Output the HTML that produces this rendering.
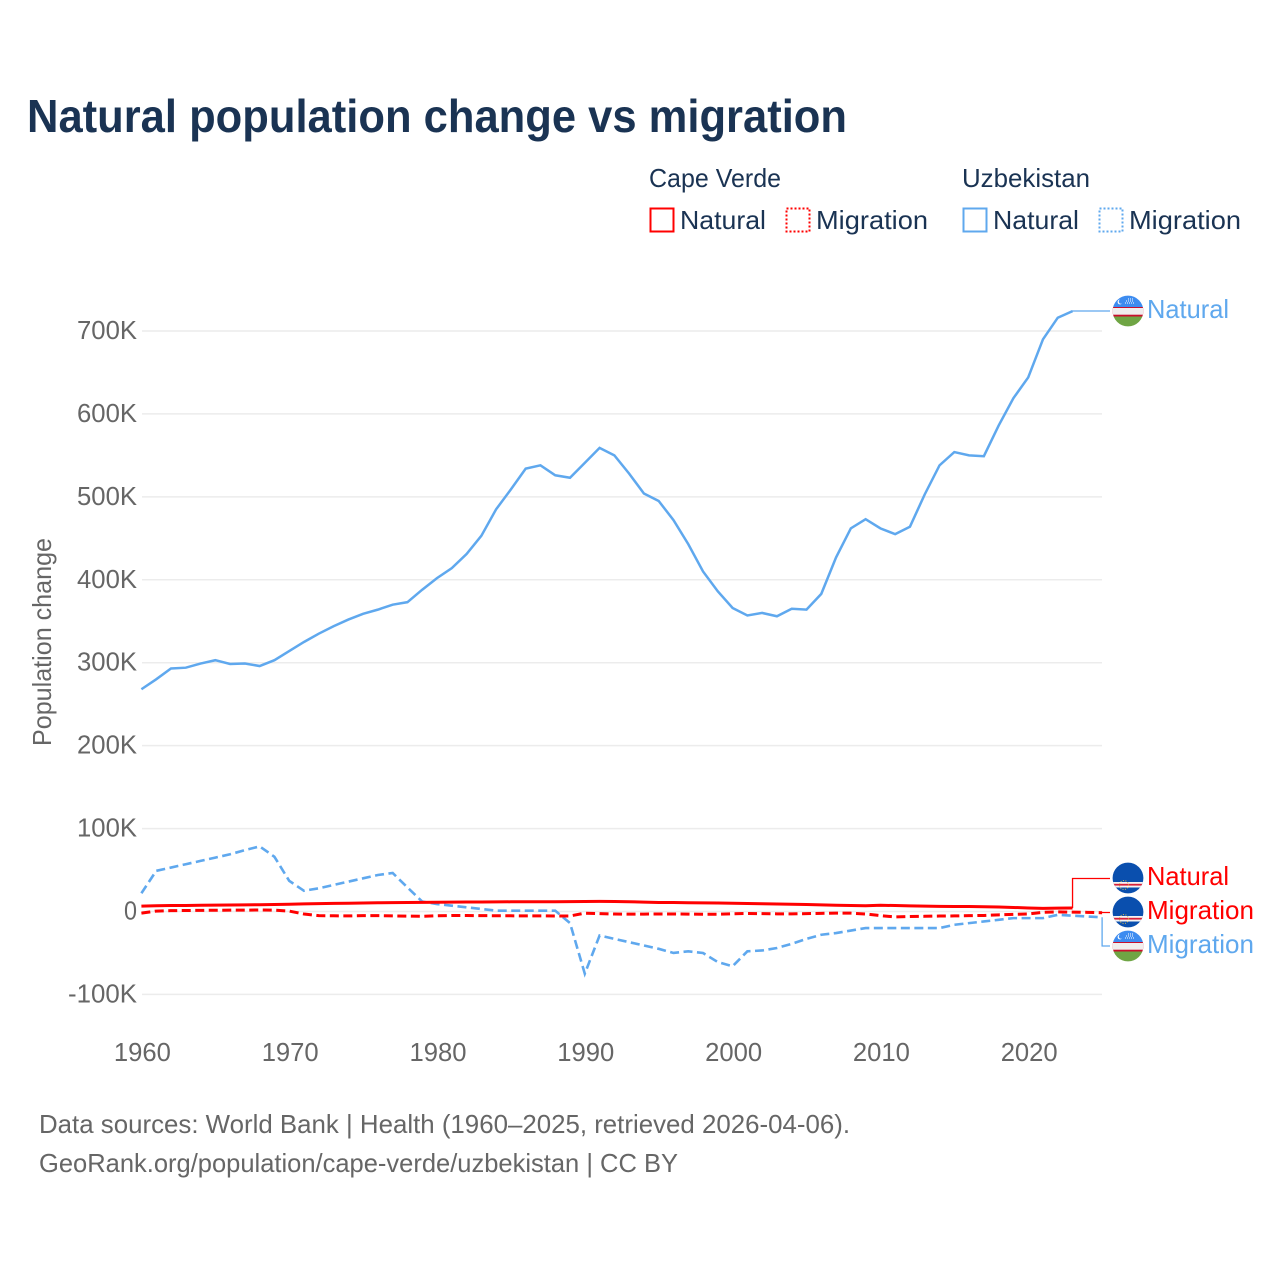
<!DOCTYPE html>
<html lang="en">
<head>
<meta charset="utf-8">
<title>Natural population change vs migration</title>
<style>
html,body{margin:0;padding:0;background:#fff;}
svg{display:block;}
text{font-family:"Liberation Sans",sans-serif;}
.t{font-size:26px;fill:#666;}
.l{font-size:26px;fill:#1a3353;}
</style>
</head>
<body>
<svg id="chart" xmlns="http://www.w3.org/2000/svg" width="1280" height="1280" viewBox="0 0 1280 1280">
  <rect width="1280" height="1280" fill="#fff"/>
  <text x="27" y="132" font-size="46" font-weight="700" fill="#1a3353" textLength="820" lengthAdjust="spacingAndGlyphs">Natural population change vs migration</text>

  <g>
    <text class="l" x="649" y="187" textLength="132" lengthAdjust="spacingAndGlyphs">Cape Verde</text>
    <text class="l" x="962" y="187" textLength="128" lengthAdjust="spacingAndGlyphs">Uzbekistan</text>
    <g>
      <rect x="650.5" y="208.5" width="23" height="23" fill="none" stroke="#ff0000" stroke-width="2"/>
      <text class="l" x="680" y="229" textLength="86" lengthAdjust="spacingAndGlyphs">Natural</text>
    </g>
    <g>
      <rect x="786.5" y="208.5" width="23" height="23" fill="none" stroke="#ff0000" stroke-width="2" stroke-dasharray="2 2"/>
      <text class="l" x="816" y="229" textLength="112" lengthAdjust="spacingAndGlyphs">Migration</text>
    </g>
    <g>
      <rect x="963.5" y="208.5" width="23" height="23" fill="none" stroke="#5fa8ee" stroke-width="2"/>
      <text class="l" x="993" y="229" textLength="86" lengthAdjust="spacingAndGlyphs">Natural</text>
    </g>
    <g>
      <rect x="1099.5" y="208.5" width="23" height="23" fill="none" stroke="#5fa8ee" stroke-width="2" stroke-dasharray="2 2"/>
      <text class="l" x="1129" y="229" textLength="112" lengthAdjust="spacingAndGlyphs">Migration</text>
    </g>
  </g>

  <text class="t" transform="translate(51 746) rotate(-90)" x="0" y="0" textLength="208" lengthAdjust="spacingAndGlyphs">Population change</text>
  <g id="grid"></g>
  <g id="yticks"></g>
  <g id="xticks"></g>
  <g id="series"></g>

  <defs>
    <clipPath id="clip-cv1"><circle cx="1128" cy="878" r="15.4"/></clipPath>
    <clipPath id="clip-cv2"><circle cx="1128" cy="912" r="15.4"/></clipPath>
    <clipPath id="clip-uz1"><circle cx="1128" cy="311" r="15.4"/></clipPath>
    <clipPath id="clip-uz2"><circle cx="1128" cy="946" r="15.4"/></clipPath>
  </defs>

  <g>
    <g clip-path="url(#clip-uz1)">
      <rect x="1112" y="295" width="32" height="12" fill="#3d8cf0"/>
      <rect x="1112" y="307" width="32" height="9.5" fill="#c8102e"/>
      <rect x="1112" y="308" width="32" height="6.7" fill="#f0eeee"/>
      <rect x="1112" y="316.5" width="32" height="11" fill="#6fa544"/>
      <circle cx="1120" cy="302" r="2.4" fill="#fff"/>
      <circle cx="1121" cy="301.6" r="2.2" fill="#3d8cf0"/>
      <path d="M1125 303h9M1126 301h8M1128 299h6" stroke="#fff" stroke-width="1" stroke-dasharray="1 1" fill="none"/>
    </g>
    <text x="1147" y="318" font-size="26" fill="#5fa8ee" textLength="82" lengthAdjust="spacingAndGlyphs">Natural</text>
  </g>
  <g>
    <g clip-path="url(#clip-cv1)">
      <rect x="1112" y="862" width="32" height="32" fill="#0a4fae"/>
      <rect x="1112" y="882" width="32" height="5.5" fill="#f4f4f4"/>
      <rect x="1112" y="883.8" width="32" height="1.8" fill="#d8213a"/>
      <circle cx="1124" cy="885" r="4.5" fill="none" stroke="#d9b84a" stroke-width="1" stroke-dasharray="1 1.5"/>
    </g>
    <text x="1147" y="885" font-size="26" fill="#ff0000" textLength="82" lengthAdjust="spacingAndGlyphs">Natural</text>
  </g>
  <g>
    <circle cx="1128" cy="912" r="16.4" fill="#fff"/>
    <g clip-path="url(#clip-cv2)">
      <rect x="1112" y="896" width="32" height="32" fill="#0a4fae"/>
      <rect x="1112" y="916" width="32" height="5.5" fill="#f4f4f4"/>
      <rect x="1112" y="917.8" width="32" height="1.8" fill="#d8213a"/>
      <circle cx="1124" cy="919" r="4.5" fill="none" stroke="#d9b84a" stroke-width="1" stroke-dasharray="1 1.5"/>
    </g>
    <text x="1147" y="919" font-size="26" fill="#ff0000" textLength="107" lengthAdjust="spacingAndGlyphs">Migration</text>
  </g>
  <g>
    <circle cx="1128" cy="946" r="16.4" fill="#fff"/>
    <g clip-path="url(#clip-uz2)">
      <rect x="1112" y="930" width="32" height="12" fill="#3d8cf0"/>
      <rect x="1112" y="942" width="32" height="9.5" fill="#c8102e"/>
      <rect x="1112" y="943" width="32" height="6.7" fill="#f0eeee"/>
      <rect x="1112" y="951.5" width="32" height="11" fill="#6fa544"/>
      <circle cx="1120" cy="937" r="2.4" fill="#fff"/>
      <circle cx="1121" cy="936.6" r="2.2" fill="#3d8cf0"/>
      <path d="M1125 938h9M1126 936h8M1128 934h6" stroke="#fff" stroke-width="1" stroke-dasharray="1 1" fill="none"/>
    </g>
    <text x="1147" y="953" font-size="26" fill="#5fa8ee" textLength="107" lengthAdjust="spacingAndGlyphs">Migration</text>
  </g>

  <g>
    <text class="t" x="39" y="1133" textLength="811" lengthAdjust="spacingAndGlyphs">Data sources: World Bank | Health (1960–2025, retrieved 2026-04-06).</text>
    <text class="t" x="39" y="1172" textLength="639" lengthAdjust="spacingAndGlyphs">GeoRank.org/population/cape-verde/uzbekistan | CC BY</text>
  </g>
</svg>
<script>
const startYear = 1960;
const yTickValues = [-100, 0, 100, 200, 300, 400, 500, 600, 700];
const yTickLabels = ['-100K', '0', '100K', '200K', '300K', '400K', '500K', '600K', '700K'];
const xTickValues = [1960, 1970, 1980, 1990, 2000, 2010, 2020];
const xTickLabels = ['1960', '1970', '1980', '1990', '2000', '2010', '2020'];

// values in thousands of people, one per year from 1960
const uzbekistanNatural = [268,280,293,294,299,303,298.5,299,296,303,314,325,335,344,352,359,364,370,373,388,402,414,431,453,485,509,534,538,526,523,541,559,550,528,504,495,472,443,410,386,366,357,360,356,365,364,383,427,462,473,462,455,464,503,538,554,550,549,586,619,644,690,716,724];
const uzbekistanMigration = [22,49,53,57,61,65,69,74,78.5,66,37,25,28,32,36,40,44,46.5,29,12,9,7,5,3,1,1,1,1,1,-14,-75,-29,-33,-37,-41,-45,-50,-48,-50,-61,-66,-48,-47,-44,-39,-33,-28,-26,-23,-20,-20,-20,-20,-20,-20,-16,-14,-12,-10,-8,-8,-8,-4,-5,-6,-7];
const capeVerdeNatural = [6.5,7,7.2,7.3,7.5,7.7,7.9,8,8.2,8.4,8.8,9.2,9.5,9.8,10,10.3,10.5,10.7,10.9,11,11.2,11.3,11.4,11.5,11.6,11.7,11.8,11.8,11.8,11.9,12,12.2,12.1,11.8,11.3,10.9,10.8,10.6,10.4,10.2,9.9,9.6,9.3,9,8.8,8.4,8,7.6,7.2,7,7.5,7.2,6.8,6.5,6.2,6,6,5.8,5.4,4.9,4.2,3.7,4,4.2];
const capeVerdeMigration = [-2,0.5,1,1.2,1.4,1.5,1.6,1.7,1.8,1.6,0.5,-3,-5,-5.2,-5.3,-5,-5,-5.3,-5.6,-5.8,-5.2,-4.8,-4.8,-5,-5.1,-5.2,-5.3,-5.3,-5.4,-5.4,-2,-2.5,-3,-3.2,-3.1,-3,-3,-3.1,-3.3,-3.3,-2.7,-2.4,-2.6,-2.8,-2.8,-2.6,-2.2,-2,-2,-3,-5,-6.5,-6,-5.8,-5.5,-5.3,-5,-4.8,-4,-3.5,-3,-1,-0.5,-0.8,-1,-1.5];

const SVG_NS = 'http://www.w3.org/2000/svg';
function xScale(year) { return 141.4 + (year - 1960) * 14.78; }
function yScale(v) { return 911.5 - v * 0.8293; }
function yearAt(i) { return startYear + i; }

const grid = document.getElementById('grid');
const yticks = document.getElementById('yticks');
const xticks = document.getElementById('xticks');
const series = document.getElementById('series');

yTickValues.forEach(function (v, i) {
  const line = document.createElementNS(SVG_NS, 'line');
  
  
  line.setAttribute('x1', 142);
  line.setAttribute('x2', 1102);
  line.setAttribute('y1', yScale(v));
  line.setAttribute('y2', yScale(v));
  line.setAttribute('stroke', '#ececec');
  line.setAttribute('stroke-width', '1.5');
  grid.appendChild(line);

  const label = document.createElementNS(SVG_NS, 'text');
  
  
  label.setAttribute('class', 't');
  label.setAttribute('x', 137);
  label.setAttribute('y', yScale(v) + 8);
  label.setAttribute('text-anchor', 'end');
  const txt = yTickLabels[i];
  const width = txt === '0' ? 13 : (txt.charAt(0) === '-' ? 69 : 60);
  label.setAttribute('textLength', width);
  label.setAttribute('lengthAdjust', 'spacingAndGlyphs');
  label.textContent = txt;
  yticks.appendChild(label);
});

xTickValues.forEach(function (year, i) {
  const label = document.createElementNS(SVG_NS, 'text');
  
  
  label.setAttribute('class', 't');
  label.setAttribute('x', xScale(year) + 1);
  label.setAttribute('y', 1061);
  label.setAttribute('text-anchor', 'middle');
  label.setAttribute('textLength', 57);
  label.setAttribute('lengthAdjust', 'spacingAndGlyphs');
  label.textContent = xTickLabels[i];
  xticks.appendChild(label);
});

function seriesPath(values) {
  return values.map(function (v, i) {
    return (i ? 'L' : 'M') + xScale(yearAt(i)).toFixed(2) + ' ' + yScale(v).toFixed(2);
  }).join('');
}

function lastPoint(values) {
  const i = values.length - 1;
  return [xScale(yearAt(i)), yScale(values[i])];
}

function connectorPath(values, labelY) {
  const p = lastPoint(values);
  return 'M' + p[0].toFixed(2) + ' ' + p[1].toFixed(2) + 'V' + labelY + 'H1110';
}

const uzNat = document.createElementNS(SVG_NS, 'path');


uzNat.setAttribute('d', seriesPath(uzbekistanNatural));
uzNat.setAttribute('fill', 'none');
uzNat.setAttribute('stroke', '#5fa8ee');
uzNat.setAttribute('stroke-width', '2.5');
series.appendChild(uzNat);

const uzMig = document.createElementNS(SVG_NS, 'path');


uzMig.setAttribute('d', seriesPath(uzbekistanMigration));
uzMig.setAttribute('fill', 'none');
uzMig.setAttribute('stroke', '#5fa8ee');
uzMig.setAttribute('stroke-width', '2.6');
uzMig.setAttribute('stroke-dasharray', '9 4.5');
series.appendChild(uzMig);

const cvNat = document.createElementNS(SVG_NS, 'path');


cvNat.setAttribute('d', seriesPath(capeVerdeNatural));
cvNat.setAttribute('fill', 'none');
cvNat.setAttribute('stroke', '#ff0000');
cvNat.setAttribute('stroke-width', '3');
series.appendChild(cvNat);

const cvMig = document.createElementNS(SVG_NS, 'path');


cvMig.setAttribute('d', seriesPath(capeVerdeMigration));
cvMig.setAttribute('fill', 'none');
cvMig.setAttribute('stroke', '#ff0000');
cvMig.setAttribute('stroke-width', '3');
cvMig.setAttribute('stroke-dasharray', '9 4.5');
series.appendChild(cvMig);

const connUzNat = document.createElementNS(SVG_NS, 'path');


connUzNat.setAttribute('d', connectorPath(uzbekistanNatural, 311));
connUzNat.setAttribute('fill', 'none');
connUzNat.setAttribute('stroke', '#5fa8ee');
connUzNat.setAttribute('stroke-width', '1.3');
series.appendChild(connUzNat);

const connCvNat = document.createElementNS(SVG_NS, 'path');


connCvNat.setAttribute('d', connectorPath(capeVerdeNatural, 878.5));
connCvNat.setAttribute('fill', 'none');
connCvNat.setAttribute('stroke', '#ff0000');
connCvNat.setAttribute('stroke-width', '1.3');
series.appendChild(connCvNat);

const connCvMig = document.createElementNS(SVG_NS, 'path');


connCvMig.setAttribute('d', connectorPath(capeVerdeMigration, 912.5));
connCvMig.setAttribute('fill', 'none');
connCvMig.setAttribute('stroke', '#ff0000');
connCvMig.setAttribute('stroke-width', '1.3');
series.appendChild(connCvMig);

const connUzMig = document.createElementNS(SVG_NS, 'path');


connUzMig.setAttribute('d', connectorPath(uzbekistanMigration, 946));
connUzMig.setAttribute('fill', 'none');
connUzMig.setAttribute('stroke', '#5fa8ee');
connUzMig.setAttribute('stroke-width', '1.3');
series.appendChild(connUzMig);
</script>
</body>
</html>
